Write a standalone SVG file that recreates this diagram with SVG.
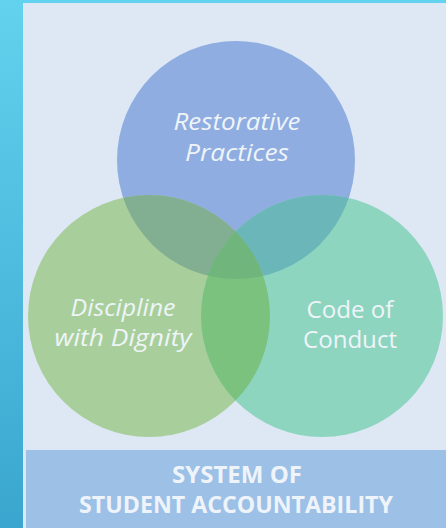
<svg xmlns="http://www.w3.org/2000/svg" width="446" height="528" viewBox="0 0 446 528">
<defs>
<linearGradient id="side" x1="0" y1="0" x2="0" y2="1">
<stop offset="0" stop-color="#62d2ee"/>
<stop offset="1" stop-color="#3aa6cf"/>
</linearGradient>
<clipPath id="cTop"><circle cx="236" cy="160" r="119"/></clipPath>
<clipPath id="cLeft"><circle cx="149" cy="316" r="121"/></clipPath>
<clipPath id="cRight"><circle cx="322" cy="316" r="121"/></clipPath>
</defs>
<style>
.lbl{font-family:"Open Sans","Liberation Sans",sans-serif;fill:#eef4f8;text-anchor:middle;font-size:23px}
.it{font-style:italic}
.ban{font-family:"Open Sans","Liberation Sans",sans-serif;font-weight:bold;fill:#eef4fa;text-anchor:middle;font-size:23px}
</style>
<rect x="0" y="0" width="446" height="528" fill="url(#side)"/>
<rect x="23" y="3" width="423" height="525" fill="#dde8f4"/>
<rect x="26" y="450" width="420" height="78" fill="#9dc0e6"/>
<g id="venn">
<circle id="top" cx="236" cy="160" r="119" fill="#8fade0"/>
<circle id="left" cx="149" cy="316" r="121" fill="#a8cf9b"/>
<circle id="right" cx="322" cy="316" r="121" fill="#8ed5c0"/>
<circle cx="149" cy="316" r="121" fill="#82ae92" clip-path="url(#cTop)"/>
<circle cx="322" cy="316" r="121" fill="#6bb6b8" clip-path="url(#cTop)"/>
<circle cx="322" cy="316" r="121" fill="#7cc27f" clip-path="url(#cLeft)"/>
<g clip-path="url(#cTop)"><circle cx="322" cy="316" r="121" fill="#70b67c" clip-path="url(#cLeft)"/></g>
</g>
<g id="node-restorative">
<text class="lbl it" x="237" y="130" textLength="127" lengthAdjust="spacingAndGlyphs">Restorative</text>
<text class="lbl it" x="237" y="161" textLength="104" lengthAdjust="spacingAndGlyphs">Practices</text>
</g>
<g id="node-discipline">
<text class="lbl it" x="123" y="316" textLength="105" lengthAdjust="spacingAndGlyphs">Discipline</text>
<text class="lbl it" x="123" y="346" textLength="137" lengthAdjust="spacingAndGlyphs">with Dignity</text>
</g>
<g id="node-code">
<text class="lbl" x="350" y="318" textLength="87" lengthAdjust="spacingAndGlyphs">Code of</text>
<text class="lbl" x="350" y="348" textLength="94" lengthAdjust="spacingAndGlyphs">Conduct</text>
</g>
<g id="banner">
<text class="ban" x="237" y="483" textLength="130" lengthAdjust="spacingAndGlyphs">SYSTEM OF</text>
<text class="ban" x="236" y="513" textLength="314" lengthAdjust="spacingAndGlyphs">STUDENT ACCOUNTABILITY</text>
</g>
<g id="connectors"/>
</svg>
